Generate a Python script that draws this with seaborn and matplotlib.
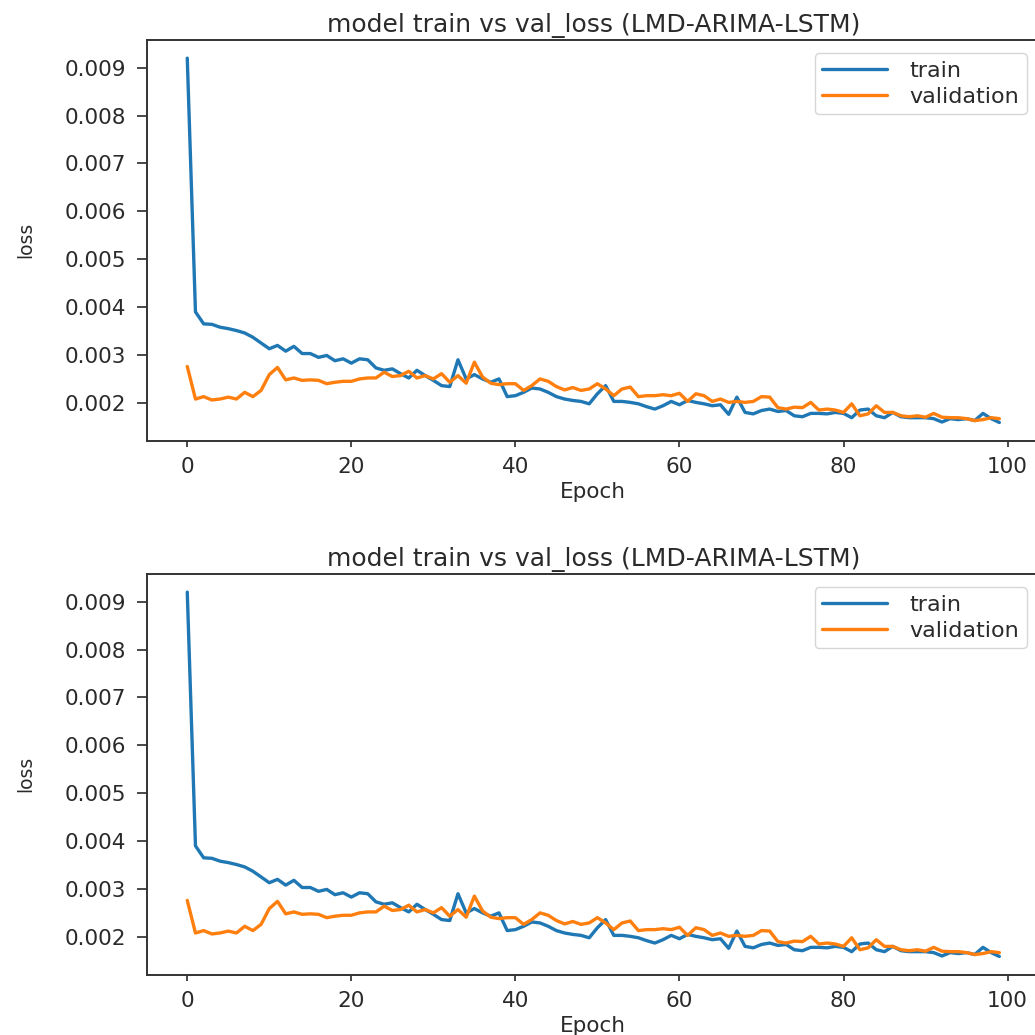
import numpy as np
import pandas as pd
import matplotlib
matplotlib.use("Agg")
import matplotlib.pyplot as plt
import seaborn as sns

# Per-epoch loss history of the LMD-ARIMA-LSTM model
epochs = list(range(100))

train_loss = [
    0.00920, 0.00390, 0.00365, 0.00364, 0.00358, 0.00355, 0.00351, 0.00346, 0.00337, 0.00325,
    0.00313, 0.00320, 0.00308, 0.00318, 0.00303, 0.00303, 0.00295, 0.00299, 0.00288, 0.00292,
    0.00283, 0.00292, 0.00290, 0.00273, 0.00268, 0.00271, 0.00261, 0.00252, 0.00268, 0.00257,
    0.00247, 0.00236, 0.00234, 0.00290, 0.00250, 0.00259, 0.00250, 0.00243, 0.00250, 0.00213,
    0.00215, 0.00222, 0.00231, 0.00229, 0.00222, 0.00213, 0.00208, 0.00205, 0.00203, 0.00198,
    0.00219, 0.00236, 0.00203, 0.00203, 0.00201, 0.00198, 0.00192, 0.00187, 0.00194, 0.00203,
    0.00196, 0.00205, 0.00201, 0.00198, 0.00194, 0.00196, 0.00176, 0.00212, 0.00180, 0.00177,
    0.00184, 0.00187, 0.00182, 0.00184, 0.00173, 0.00171, 0.00178, 0.00178, 0.00177, 0.00180,
    0.00178, 0.00169, 0.00185, 0.00187, 0.00173, 0.00169, 0.00180, 0.00171, 0.00169, 0.00169,
    0.00169, 0.00167, 0.00160, 0.00167, 0.00165, 0.00167, 0.00163, 0.00178, 0.00167, 0.00159,
]

val_loss = [
    0.00276, 0.00208, 0.00213, 0.00206, 0.00208, 0.00212, 0.00208, 0.00222, 0.00213, 0.00226,
    0.00259, 0.00274, 0.00248, 0.00252, 0.00247, 0.00248, 0.00247, 0.00240, 0.00243, 0.00245,
    0.00245, 0.00250, 0.00252, 0.00252, 0.00264, 0.00255, 0.00257, 0.00266, 0.00252, 0.00257,
    0.00250, 0.00261, 0.00243, 0.00257, 0.00241, 0.00285, 0.00254, 0.00241, 0.00238, 0.00240,
    0.00240, 0.00226, 0.00236, 0.00250, 0.00245, 0.00234, 0.00227, 0.00232, 0.00226, 0.00229,
    0.00240, 0.00229, 0.00215, 0.00229, 0.00233, 0.00213, 0.00215, 0.00215, 0.00217, 0.00215,
    0.00220, 0.00203, 0.00219, 0.00215, 0.00203, 0.00208, 0.00201, 0.00203, 0.00201, 0.00203,
    0.00213, 0.00212, 0.00190, 0.00187, 0.00191, 0.00190, 0.00201, 0.00185, 0.00187, 0.00185,
    0.00180, 0.00198, 0.00173, 0.00177, 0.00194, 0.00180, 0.00180, 0.00173, 0.00171, 0.00173,
    0.00170, 0.00178, 0.00170, 0.00169, 0.00169, 0.00167, 0.00163, 0.00165, 0.00169, 0.00167,
]

series_names = ["train", "validation"]
series_colors = ["#1f77b4", "#ff7f0e"]
title_text = "model train vs val_loss (LMD-ARIMA-LSTM)"

sns.set_style("ticks")
plt.rcParams.update({
    "font.family": ["DejaVu Sans"],
    "text.color": "#2a2a2a",
    "axes.labelcolor": "#2a2a2a",
    "xtick.color": "#2a2a2a",
    "ytick.color": "#2a2a2a",
    "axes.edgecolor": "#333333",
    "axes.linewidth": 1.4,
    "xtick.major.width": 1.2,
    "ytick.major.width": 1.2,
    "xtick.major.size": 4.5,
    "ytick.major.size": 7,
    "xtick.major.pad": 7,
    "ytick.major.pad": 8,
})

history = pd.DataFrame({
    "Epoch": epochs * 2,
    "loss": train_loss + val_loss,
    "series": [series_names[0]] * len(epochs) + [series_names[1]] * len(epochs),
})

fig = plt.figure(figsize=(10.35, 10.35), dpi=100)
left, width, height = 0.1417, 0.8631, 0.3872
bottoms = [0.5742, 0.0583]

for b in bottoms:
    ax = fig.add_axes([left, b, width, height])
    sns.lineplot(data=history, x="Epoch", y="loss", hue="series",
                 hue_order=series_names, palette=series_colors,
                 linewidth=2.4, ax=ax)
    ax.set_title(title_text, fontsize=18, pad=6)
    ax.set_xlabel("Epoch", fontsize=15.5)
    ax.set_ylabel("loss", fontsize=13.5)
    ax.tick_params(labelsize=15.5)
    ax.set_xticks([0, 20, 40, 60, 80, 100])
    ax.xaxis.set_label_coords(0.5, -0.102)
    ax.xaxis.label.set_va("top")
    ax.yaxis.set_label_coords(-0.125, 0.5)
    leg = ax.legend(loc="upper right", fontsize=16, frameon=True,
                    handlelength=2.9, handletextpad=1.0, labelspacing=0.25,
                    borderpad=0.35, borderaxespad=0.6)
    leg.set_title(None)
    for line in leg.get_lines():
        line.set_linewidth(2.4)

fig.savefig("out.png", dpi=100)
